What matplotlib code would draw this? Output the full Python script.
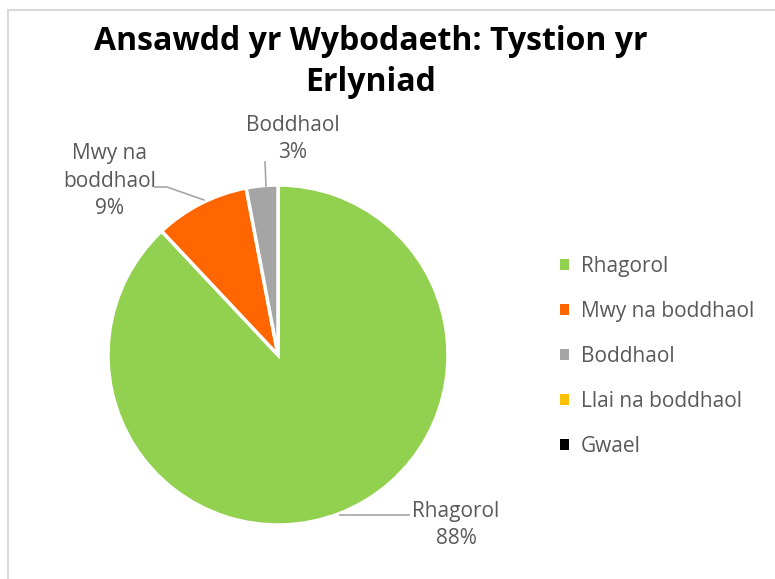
import matplotlib
matplotlib.use("Agg")
import matplotlib.pyplot as plt
from matplotlib.patches import Patch, Rectangle

categories = ["Rhagorol", "Mwy na boddhaol", "Boddhaol", "Llai na boddhaol", "Gwael"]
values = [88, 9, 3, 0, 0]
colors = ["#92D050", "#FF6600", "#A5A5A5", "#FFC000", "#000000"]
title = "Ansawdd yr Wybodaeth: Tystion yr\nErlyniad"

W, H = 775, 579
fig = plt.figure(figsize=(W / 100, H / 100), dpi=100)
plt.rcParams['font.family'] = ['Open Sans', 'DejaVu Sans']

# frame border (chart area, partly cropped)
fig.add_artist(Rectangle((8 / W, -0.1), 1.2, (H - 10) / H + 0.1, transform=fig.transFigure,
                         fill=False, edgecolor="#D9D9D9", linewidth=1.5))

cx, cy, R = 278, 355, 170
ax = fig.add_axes([0, 0, 1, 1])
ax.axis("off")

def px(x, y):
    return ((x - cx) / R, (cy - y) / R)

nz = [(c, v, col) for c, v, col in zip(categories, values, colors) if v > 0]
ax.pie([v for _, v, _ in nz], colors=[col for _, _, col in nz], startangle=90,
       counterclock=False, radius=1.0, center=(0, 0),
       wedgeprops=dict(edgecolor="white", linewidth=2.5), frame=False)
ax.set_xlim((0 - cx) / R, (W - cx) / R)
ax.set_ylim((cy - H) / R, cy / R)
ax.set_aspect("auto")

lab_col = "#595959"
line_col = "#A6A6A6"
fs = 15
total = sum(values)
pct = {c: f"{round(v / total * 100)}%" for c, v in zip(categories, values)}

# Rhagorol
ax.plot(*zip(px(340, 515), px(409, 515)), color=line_col, lw=1.2)
ax.text(*px(456, 525), f"Rhagorol\n{pct['Rhagorol']}", ha="center", va="center",
        fontsize=fs, color=lab_col, linespacing=1.4)
# Mwy na boddhaol
ax.plot(*zip(px(155, 187), px(167, 187), px(204, 200)), color=line_col, lw=1.2)
ax.text(*px(110, 181), f"Mwy na\nboddhaol\n{pct['Mwy na boddhaol']}", ha="center", va="center",
        fontsize=fs, color=lab_col, linespacing=1.4)
# Boddhaol
ax.plot(*zip(px(265, 162), px(266, 186)), color=line_col, lw=1.2)
ax.text(*px(293, 139), f"Boddhaol\n{pct['Boddhaol']}", ha="center", va="center",
        fontsize=fs, color=lab_col, linespacing=1.4)

fig.text(371 / W, 1 - 62 / H, title, ha="center", va="center", fontsize=23,
         fontweight="bold", color="black", linespacing=1.35)

handles = [Patch(facecolor=c, edgecolor="none") for c in colors]
leg = ax.legend(handles, categories, loc="upper left", bbox_to_anchor=(560 / W, 1 - 256 / H),
                bbox_transform=fig.transFigure, frameon=False, fontsize=15,
                labelspacing=1.15, handlelength=0.45, handleheight=0.45, handletextpad=0.55,
                labelcolor=lab_col, borderaxespad=0, borderpad=0)

fig.savefig("out.png", dpi=100, facecolor="white")
